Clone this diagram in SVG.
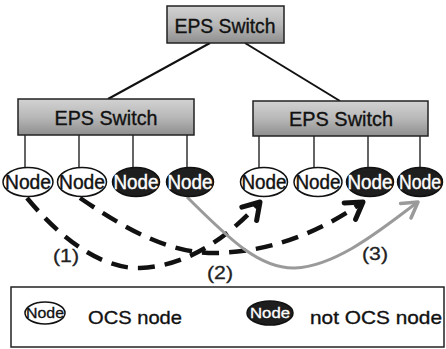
<svg xmlns="http://www.w3.org/2000/svg" width="446" height="349" viewBox="0 0 446 349">
<style>
.sw{stroke:#222;stroke-width:1.5}
.swt{font-family:"Liberation Sans",Arial,sans-serif;font-size:20px;fill:#111;stroke:#111;stroke-width:0.35;text-anchor:middle}
.ln{stroke:#111;stroke-width:1.3;fill:none}
.tl{stroke:#111;stroke-width:2;fill:none}
.ocs{fill:#fff;stroke:#111;stroke-width:1.5}
.nocs{fill:#1e1e1e;stroke:#111;stroke-width:1.5}
.nt{font-family:"Liberation Sans",Arial,sans-serif;font-size:20px;text-anchor:middle;stroke-width:0.4}
.dark{fill:#fff;stroke:#fff}
.light{fill:#111;stroke:#111}
.dash{fill:none;stroke:#111;stroke-width:4.5;stroke-dasharray:17 10}
.gray{fill:none;stroke:#9a9a9a;stroke-width:3}
.lbl{font-family:"Liberation Sans",Arial,sans-serif;font-size:19px;fill:#222;stroke:#222;stroke-width:0.3;text-anchor:middle}
.lg{font-family:"Liberation Sans",Arial,sans-serif;font-size:19px;fill:#111;stroke:#111;stroke-width:0.35}
.lt{font-family:"Liberation Sans",Arial,sans-serif;font-size:15px;text-anchor:middle;stroke-width:0.3}
</style>
<defs>
<linearGradient id="g" x1="0" y1="0" x2="0" y2="1">
<stop offset="0" stop-color="#d2d2d2"/>
<stop offset="0.5" stop-color="#b8b8b8"/>
<stop offset="1" stop-color="#8e8e8e"/>
</linearGradient>
<marker id="ab" markerUnits="userSpaceOnUse" markerWidth="30" markerHeight="30" refX="0" refY="0" viewBox="-20 -15 25 30" orient="auto">
<path d="M-16,-10 L0,0 L-16,10" fill="none" stroke="#111" stroke-width="5" stroke-linecap="round" stroke-linejoin="round"/>
</marker>
<marker id="ag" markerUnits="userSpaceOnUse" markerWidth="30" markerHeight="30" refX="0" refY="0" viewBox="-20 -15 25 30" orient="auto">
<path d="M-15,-9 L0,0 L-15,9" fill="none" stroke="#9a9a9a" stroke-width="3.5" stroke-linecap="round" stroke-linejoin="round"/>
</marker>
</defs>
<rect width="446" height="349" fill="#fff"/>

<g id="connectors">
<line class="tl" x1="210" y1="43" x2="108" y2="99"/>
<line class="tl" x1="245" y1="43" x2="340" y2="101"/>
<line class="ln" x1="25" y1="135" x2="25" y2="168"/>
<line class="ln" x1="79" y1="135" x2="79" y2="168"/>
<line class="ln" x1="133" y1="135" x2="133" y2="168"/>
<line class="ln" x1="187" y1="135" x2="187" y2="168"/>
<line class="ln" x1="259" y1="136" x2="259" y2="168"/>
<line class="ln" x1="314" y1="136" x2="314" y2="168"/>
<line class="ln" x1="368" y1="136" x2="368" y2="168"/>
<line class="ln" x1="420" y1="136" x2="420" y2="168"/>
<path id="c1" class="dash" d="M27,198 C70,250 110,269 140,268 C190,266 230,235 260,202" marker-end="url(#ab)"/>
<path id="c2" class="dash" d="M80,198 C130,232 170,253 215,253 C280,252 330,225 363,202" marker-end="url(#ab)"/>
<path id="c3" class="gray" d="M187,197 C230,240 260,269 295,268 C340,266 390,222 418,202" marker-end="url(#ag)"/>
<text class="lbl" x="66" y="262" textLength="26" lengthAdjust="spacingAndGlyphs">(1)</text>
<text class="lbl" x="220" y="279" textLength="26" lengthAdjust="spacingAndGlyphs">(2)</text>
<text class="lbl" x="375" y="260" textLength="26" lengthAdjust="spacingAndGlyphs">(3)</text>
</g>

<g id="sw-top">
<rect class="sw" x="167" y="6" width="117" height="37" fill="url(#g)"/>
<text class="swt" x="225" y="33" textLength="101" lengthAdjust="spacingAndGlyphs">EPS Switch</text>
</g>
<g id="sw-left">
<rect class="sw" x="18" y="99" width="176" height="36" fill="url(#g)"/>
<text class="swt" x="106" y="125" textLength="103" lengthAdjust="spacingAndGlyphs">EPS Switch</text>
</g>
<g id="sw-right">
<rect class="sw" x="253" y="101" width="175" height="35" fill="url(#g)"/>
<text class="swt" x="341" y="126" textLength="104" lengthAdjust="spacingAndGlyphs">EPS Switch</text>
</g>

<g id="n1"><ellipse class="ocs" cx="28" cy="182" rx="25" ry="14.5"/><text class="nt light" x="28" y="189" textLength="46" lengthAdjust="spacingAndGlyphs">Node</text></g>
<g id="n2"><ellipse class="ocs" cx="82" cy="182" rx="24.5" ry="14.5"/><text class="nt light" x="82" y="189" textLength="46" lengthAdjust="spacingAndGlyphs">Node</text></g>
<g id="n3"><ellipse class="nocs" cx="136" cy="182" rx="23.5" ry="14.5"/><text class="nt dark" x="136" y="189" textLength="45" lengthAdjust="spacingAndGlyphs">Node</text></g>
<g id="n4"><ellipse class="nocs" cx="190" cy="182" rx="23.5" ry="14.5"/><text class="nt dark" x="190" y="189" textLength="45" lengthAdjust="spacingAndGlyphs">Node</text></g>
<g id="n5"><ellipse class="ocs" cx="264" cy="182" rx="23.5" ry="14.5"/><text class="nt light" x="264" y="189" textLength="45" lengthAdjust="spacingAndGlyphs">Node</text></g>
<g id="n6"><ellipse class="ocs" cx="318" cy="182" rx="24" ry="14.5"/><text class="nt light" x="318" y="189" textLength="45" lengthAdjust="spacingAndGlyphs">Node</text></g>
<g id="n7"><ellipse class="nocs" cx="370" cy="182" rx="23.5" ry="14.5"/><text class="nt dark" x="370" y="189" textLength="45" lengthAdjust="spacingAndGlyphs">Node</text></g>
<g id="n8"><ellipse class="nocs" cx="420" cy="182" rx="22.5" ry="14.5"/><text class="nt dark" x="420" y="189" font-size="18.5" textLength="42" lengthAdjust="spacingAndGlyphs">Node</text></g>

<g id="legend">
<rect x="11" y="287" width="433" height="60" fill="#fff" stroke="#222" stroke-width="1.5"/>
<ellipse class="ocs" cx="45" cy="313" rx="20" ry="11"/>
<text class="lt light" x="45" y="318" textLength="38" lengthAdjust="spacingAndGlyphs">Node</text>
<text class="lg" x="88" y="324" textLength="94" lengthAdjust="spacingAndGlyphs">OCS node</text>
<ellipse class="nocs" cx="270" cy="313" rx="23" ry="12"/>
<text class="lt dark" x="270" y="318" textLength="40" lengthAdjust="spacingAndGlyphs">Node</text>
<text class="lg" x="310" y="324" textLength="132" lengthAdjust="spacingAndGlyphs">not OCS node</text>
</g>
</svg>
